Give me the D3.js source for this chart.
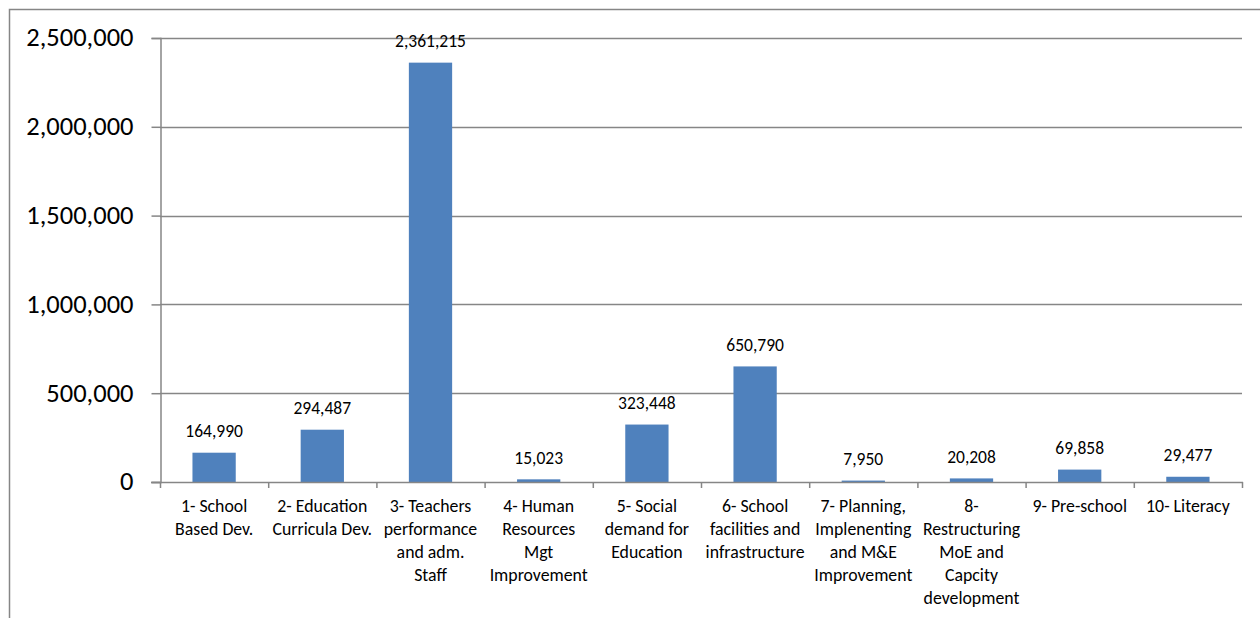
<!DOCTYPE html>
<html>
<head>
<meta charset="utf-8">
<script src="https://cdn.jsdelivr.net/npm/d3@7/dist/d3.min.js"></script>
<style>
  html, body { margin: 0; padding: 0; background: #fff; }
  svg { display: block; font-family: Carlito, Lato, "Liberation Sans", sans-serif; }
</style>
</head>
<body>
<svg id="chart" width="1260" height="618"></svg>
<script>
// Budget by programme
const categories = [
  "1- School\nBased Dev.",
  "2- Education\nCurricula Dev.",
  "3- Teachers\nperformance\nand adm.\nStaff",
  "4- Human\nResources\nMgt\nImprovement",
  "5- Social\ndemand for\nEducation",
  "6- School\nfacilities and\ninfrastructure",
  "7- Planning,\nImplenenting\nand M&E\nImprovement",
  "8-\nRestructuring\nMoE and\nCapcity\ndevelopment",
  "9- Pre-school",
  "10- Literacy"
];
const values = [164990, 294487, 2361215, 15023, 323448, 650790, 7950, 20208, 69858, 29477];
const yTicks = [0, 500000, 1000000, 1500000, 2000000, 2500000];

const svg = d3.select("#chart");
const fmt = d3.format(",");

const plot = { left: 160, right: 1242, top: 38, bottom: 482 };

const x = d3.scaleBand()
  .domain(categories)
  .range([plot.left, plot.right])
  .paddingInner(0.6)
  .paddingOuter(0.3);

const y = d3.scaleLinear()
  .domain([0, 2500000])
  .range([plot.bottom, plot.top]);

const grey = "#868686";

// outer chart border
svg.append("path")
  .attr("d", "M9.5,630V9.5H1275")
  .attr("fill", "none")
  .attr("stroke", grey)
  .attr("stroke-width", 1.5);

// horizontal gridlines
svg.append("g")
  .selectAll("line")
  .data(yTicks.filter(d => d > 0))
  .join("line")
  .attr("x1", plot.left)
  .attr("x2", plot.right)
  .attr("y1", d => Math.round(y(d)) + 0.5)
  .attr("y2", d => Math.round(y(d)) + 0.5)
  .attr("stroke", grey)
  .attr("stroke-width", 1.5);

// y axis
const yAxis = d3.axisLeft(y)
  .tickValues(yTicks)
  .tickFormat(fmt)
  .tickSize(9)
  .tickPadding(18);
const gy = svg.append("g")
  .attr("transform", `translate(${plot.left + 0.5},0)`)
  .call(yAxis);
gy.select(".domain").attr("stroke", grey).attr("stroke-width", 1.5);
gy.selectAll(".tick line").attr("stroke", grey).attr("stroke-width", 1.5);
gy.selectAll(".tick text")
  .attr("fill", "#000")
  .attr("dy", "0.3em")
  .style("font-size", "26.5px")
  .style("font-family", "Carlito, Lato, sans-serif");

// bars
svg.append("g")
  .selectAll("rect")
  .data(values)
  .join("rect")
  .attr("x", (d, i) => x(categories[i]))
  .attr("width", x.bandwidth())
  .attr("y", d => y(d))
  .attr("height", d => y(0) - y(d))
  .attr("fill", "#4F81BD");

// x axis baseline and category boundary ticks
const step = x.step();
const boundaries = d3.range(categories.length + 1).map(i => plot.left + i * step);
svg.append("line")
  .attr("x1", plot.left - 9)
  .attr("x2", plot.right + 1)
  .attr("y1", y(0) + 0.5)
  .attr("y2", y(0) + 0.5)
  .attr("stroke", grey)
  .attr("stroke-width", 1.5);
svg.append("g")
  .selectAll("line")
  .data(boundaries)
  .join("line")
  .attr("x1", d => d + 0.5)
  .attr("x2", d => d + 0.5)
  .attr("y1", y(0))
  .attr("y2", y(0) + 6)
  .attr("stroke", grey)
  .attr("stroke-width", 1.5);

// value labels
svg.append("g")
  .selectAll("text")
  .data(values)
  .join("text")
  .attr("x", (d, i) => x(categories[i]) + x.bandwidth() / 2)
  .attr("y", d => y(d) - 15.5)
  .attr("text-anchor", "middle")
  .style("font-size", "17.5px")
  .attr("fill", "#000")
  .text(d => fmt(d));

// category labels
const catG = svg.append("g");
categories.forEach((c, i) => {
  const t = catG.append("text")
    .attr("x", x(c) + x.bandwidth() / 2)
    .attr("y", 512)
    .attr("text-anchor", "middle")
    .style("font-size", "17.8px")
    .attr("fill", "#000");
  c.split("\n").forEach((line, j) => {
    t.append("tspan")
      .attr("x", x(c) + x.bandwidth() / 2)
      .attr("dy", j === 0 ? 0 : 23)
      .text(line);
  });
});
</script>
</body>
</html>
